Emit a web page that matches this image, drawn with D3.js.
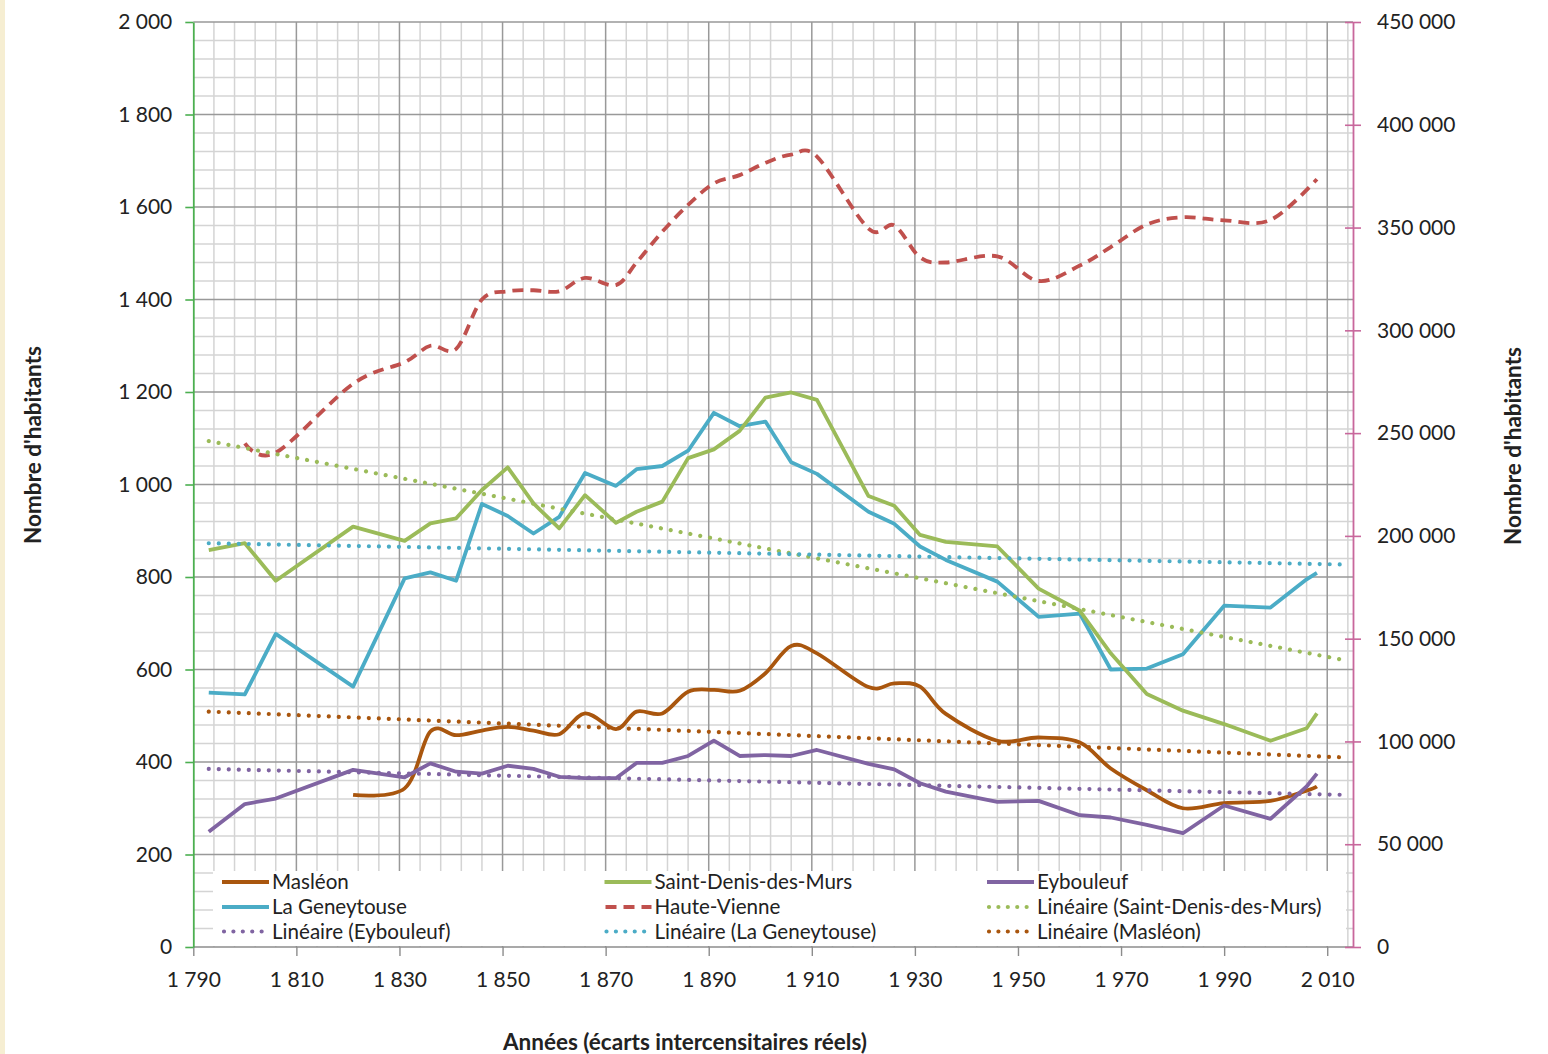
<!DOCTYPE html>
<html>
<head>
<meta charset="utf-8">
<script src="https://cdn.jsdelivr.net/npm/d3@7"></script>
<style>
  body { margin: 0; background: #ffffff; }
  svg text { font-family: Lato, "Open Sans", "Noto Sans", sans-serif; fill: #222; }
</style>
</head>
<body>
<svg id="chart" width="1548" height="1054"></svg>
<script>
// Census years shared by the four communes
const years = [1793, 1800, 1806, 1821, 1831, 1836, 1841, 1846, 1851, 1856, 1861, 1866, 1872, 1876,
  1881, 1886, 1891, 1896, 1901, 1906, 1911, 1921, 1926, 1931, 1936, 1946, 1954, 1962, 1968, 1975,
  1982, 1990, 1999, 2006, 2008];

// Population of each commune (left axis)
const masleon = [null, null, null, 329, 343, 466, 458, 468, 476, 468, 460, 505, 471, 509, 505, 552,
  556, 554, 592, 651, 635, 562, 570, 563, 504, 446, 453, 442, 386, 339, 300, 311, 316, 338, 347];
const geneytouse = [550, 546, 677, 563, 797, 810, 792, 958, 932, 894, 930, 1025, 997, 1033, 1040,
  1073, 1155, 1126, 1136, 1048, 1023, 941, 915, 866, 837, 790, 714, 721, 600, 602, 633, 738, 734,
  795, 809];
const saintDenis = [858, 873, 792, 909, 878, 916, 927, 988, 1037, 959, 905, 977, 917, 941, 963, 1057,
  1076, 1116, 1188, 1199, 1183, 975, 954, 891, 876, 866, 775, 727, 635, 547, 511, 482, 446, 473, 505];
const eybouleuf = [249, 309, 321, 383, 367, 397, 379, 375, 392, 385, 368, 365, 365, 398, 398, 413,
  446, 413, 415, 413, 426, 396, 384, 354, 336, 314, 316, 285, 280, 264, 246, 306, 277, 347, 375];

// Department population (right axis)
const hvYears = [1800, 1806, 1821, 1831, 1836, 1841, 1846, 1851, 1856, 1861, 1866, 1872, 1876, 1881,
  1886, 1891, 1896, 1901, 1906, 1911, 1921, 1926, 1931, 1936, 1946, 1954, 1962, 1968, 1975, 1982,
  1990, 1999, 2008];
const hauteVienne = [245000, 240500, 274000, 284500, 292500, 291000, 315000, 319000, 319500, 319000,
  325500, 322000, 333000, 348000, 361000, 371500, 375500, 381500, 385500, 384500, 349500, 351000,
  335500, 333000, 336000, 324000, 331500, 340500, 351500, 355000, 353500, 353700, 373500];

// Linear trend lines: start / end year and values
const trendYears = [1793, 2013];
const trendSaintDenis = [1094, 621];
const trendGeneytouse = [873, 827];
const trendMasleon = [509, 410];
const trendEybouleuf = [385, 329];

// Tick values
const xTicks = d3.range(1790, 2011, 20);
const yLeftTicks = d3.range(0, 2001, 200);
const yRightTicks = d3.range(0, 450001, 50000);

const colors = {
  masleon: "#a9560e",
  geneytouse: "#4bacc6",
  saintDenis: "#9bbb59",
  eybouleuf: "#8064a2",
  hauteVienne: "#c0504d"
};

const svg = d3.select("#chart");
const W = 1548, H = 1054;
const plot = { left: 193.3, right: 1353, top: 22, bottom: 947 };

const fr = d3.formatLocale({ decimal: ",", thousands: "\u00a0", grouping: [3], currency: ["", " €"] });
const fmt = fr.format(",d");

const x = d3.scaleLinear().domain([1790, 2015]).range([plot.left, plot.right]);
const yL = d3.scaleLinear().domain([0, 2000]).range([plot.bottom, plot.top]);
const yR = d3.scaleLinear().domain([0, 450000]).range([plot.bottom, plot.top]);

// cream strip on the left edge
svg.append("rect").attr("x", 0).attr("y", 0).attr("width", 5).attr("height", H).attr("fill", "#f6eed2");

// grid
const grid = svg.append("g");
const minorX = d3.range(1794, 2015, 4).filter(v => (v - 1790) % 20 !== 0);
const majorX = d3.range(1810, 2015, 20);
const minorY = d3.range(40, 2001, 40).filter(v => v % 200 !== 0);
const majorY = d3.range(200, 2001, 200);

grid.selectAll(".mx").data(minorX).join("line")
  .attr("x1", d => x(d)).attr("x2", d => x(d))
  .attr("y1", plot.top).attr("y2", plot.bottom)
  .attr("stroke", "#d4d4d4").attr("stroke-width", 1.5);
grid.selectAll(".my").data(minorY).join("line")
  .attr("x1", plot.left).attr("x2", plot.right)
  .attr("y1", d => yL(d)).attr("y2", d => yL(d))
  .attr("stroke", "#d4d4d4").attr("stroke-width", 1.5);
grid.selectAll(".Mx").data(majorX).join("line")
  .attr("x1", d => x(d)).attr("x2", d => x(d))
  .attr("y1", plot.top).attr("y2", plot.bottom)
  .attr("stroke", "#999999").attr("stroke-width", 1.5);
grid.selectAll(".My").data(majorY).join("line")
  .attr("x1", plot.left).attr("x2", plot.right)
  .attr("y1", d => yL(d)).attr("y2", d => yL(d))
  .attr("stroke", "#999999").attr("stroke-width", 1.5);

// series
const lines = svg.append("g").attr("fill", "none");

function pairs(xs, ys) { return xs.map((d, i) => [d, ys[i]]); }

const straight = d3.line().defined(d => d[1] != null).x(d => x(d[0])).y(d => yL(d[1]));
const smooth = d3.line().defined(d => d[1] != null).x(d => x(d[0])).y(d => yL(d[1]))
  .curve(d3.curveCardinal.tension(0));
const smoothR = d3.line().x(d => x(d[0])).y(d => yR(d[1])).curve(d3.curveCardinal.tension(0));

const LW = 3.8;
function trend(vals, color) {
  lines.append("path").attr("d", straight(pairs(trendYears, vals)))
    .attr("stroke", color).attr("stroke-width", 4.2)
    .attr("stroke-linecap", "round").attr("stroke-dasharray", "0.01 10");
}

lines.append("path").attr("d", smooth(pairs(years, masleon)))
  .attr("stroke", colors.masleon).attr("stroke-width", LW).attr("stroke-linejoin", "round");
lines.append("path").attr("d", straight(pairs(years, geneytouse)))
  .attr("stroke", colors.geneytouse).attr("stroke-width", LW).attr("stroke-linejoin", "round");
lines.append("path").attr("d", straight(pairs(years, saintDenis)))
  .attr("stroke", colors.saintDenis).attr("stroke-width", LW).attr("stroke-linejoin", "round");
lines.append("path").attr("d", smoothR(pairs(hvYears, hauteVienne)))
  .attr("stroke", colors.hauteVienne).attr("stroke-width", LW)
  .attr("stroke-dasharray", "11 7");
lines.append("path").attr("d", straight(pairs(years, eybouleuf)))
  .attr("stroke", colors.eybouleuf).attr("stroke-width", LW).attr("stroke-linejoin", "round");

trend(trendSaintDenis, colors.saintDenis);
trend(trendEybouleuf, colors.eybouleuf);
trend(trendGeneytouse, colors.geneytouse);
trend(trendMasleon, colors.masleon);

// legend
const legendItems = [
  { label: "Masléon", color: colors.masleon, type: "solid" },
  { label: "Saint-Denis-des-Murs", color: colors.saintDenis, type: "solid" },
  { label: "Eybouleuf", color: colors.eybouleuf, type: "solid" },
  { label: "La Geneytouse", color: colors.geneytouse, type: "solid" },
  { label: "Haute-Vienne", color: colors.hauteVienne, type: "dash" },
  { label: "Linéaire (Saint-Denis-des-Murs)", color: colors.saintDenis, type: "dot" },
  { label: "Linéaire (Eybouleuf)", color: colors.eybouleuf, type: "dot" },
  { label: "Linéaire (La Geneytouse)", color: colors.geneytouse, type: "dot" },
  { label: "Linéaire (Masléon)", color: colors.masleon, type: "dot" }
];
const legend = svg.append("g");
legend.append("rect").attr("x", 213).attr("y", 871).attr("width", 1133).attr("height", 75).attr("fill", "#fff");
const colX = [222, 604.5, 987];
const rowY = [882, 907, 931.5];
legendItems.forEach((it, i) => {
  const cx = colX[i % 3], cy = rowY[Math.floor(i / 3)];
  const ln = legend.append("line").attr("x1", cx).attr("x2", cx + 47).attr("y1", cy).attr("y2", cy)
    .attr("stroke", it.color).attr("stroke-width", it.type === "dot" ? 4.2 : LW);
  if (it.type === "dash") ln.attr("stroke-dasharray", "11 7").attr("x1", cx + 1);
  if (it.type === "dot") ln.attr("stroke-dasharray", "0.01 9.4").attr("stroke-linecap", "round").attr("x1", cx + 2);
  legend.append("text").attr("x", cx + 50).attr("y", cy).attr("dy", "0.35em")
    .attr("font-size", 20.6).text(it.label);
});

// axes
const axX = svg.append("g").attr("transform", `translate(0,${plot.bottom})`)
  .call(d3.axisBottom(x).tickValues(xTicks).tickFormat(fmt).tickSize(9).tickSizeOuter(0));
axX.select(".domain").attr("stroke", "#8c8c8c").attr("stroke-width", 1.5)
  .attr("d", `M${plot.left},0H${plot.right}`);
axX.selectAll(".tick line").attr("stroke", "#8c8c8c").attr("stroke-width", 1.4);
axX.selectAll(".tick text").attr("y", 33).attr("dy", "0.35em").attr("font-size", 21).attr("fill", "#222");

const axL = svg.append("g").attr("transform", `translate(${plot.left},0)`)
  .call(d3.axisLeft(yL).tickValues(yLeftTicks).tickFormat(fmt).tickSize(8).tickPadding(13).tickSizeOuter(0));
axL.select(".domain").attr("stroke", "#4caf50").attr("stroke-width", 1.8);
axL.selectAll(".tick line").attr("stroke", "#4caf50").attr("stroke-width", 1.6);
axL.selectAll(".tick text").attr("font-size", 21).attr("fill", "#222");

const axR = svg.append("g").attr("transform", `translate(${plot.right},0)`)
  .call(d3.axisRight(yR).tickValues(yRightTicks).tickFormat(fmt).tickSize(8).tickPadding(16).tickSizeOuter(0));
axR.select(".domain").attr("stroke", "#c8679c").attr("stroke-width", 1.8);
axR.selectAll(".tick line").attr("x1", -8).attr("x2", 8).attr("stroke", "#c8679c").attr("stroke-width", 1.6);
axR.selectAll(".tick text").attr("font-size", 21).attr("fill", "#222");

// axis titles
svg.append("text").attr("transform", "translate(41,445) rotate(-90)")
  .attr("text-anchor", "middle").attr("font-size", 22.5).attr("font-weight", "bold")
  .text("Nombre d'habitants");
svg.append("text").attr("transform", "translate(1521,446) rotate(-90)")
  .attr("text-anchor", "middle").attr("font-size", 22.5).attr("font-weight", "bold")
  .text("Nombre d'habitants");
svg.append("text").attr("x", 685).attr("y", 1042).attr("dy", "0.35em")
  .attr("text-anchor", "middle").attr("font-size", 22.5).attr("font-weight", "bold")
  .text("Années (écarts intercensitaires réels)");
</script>
</body>
</html>
